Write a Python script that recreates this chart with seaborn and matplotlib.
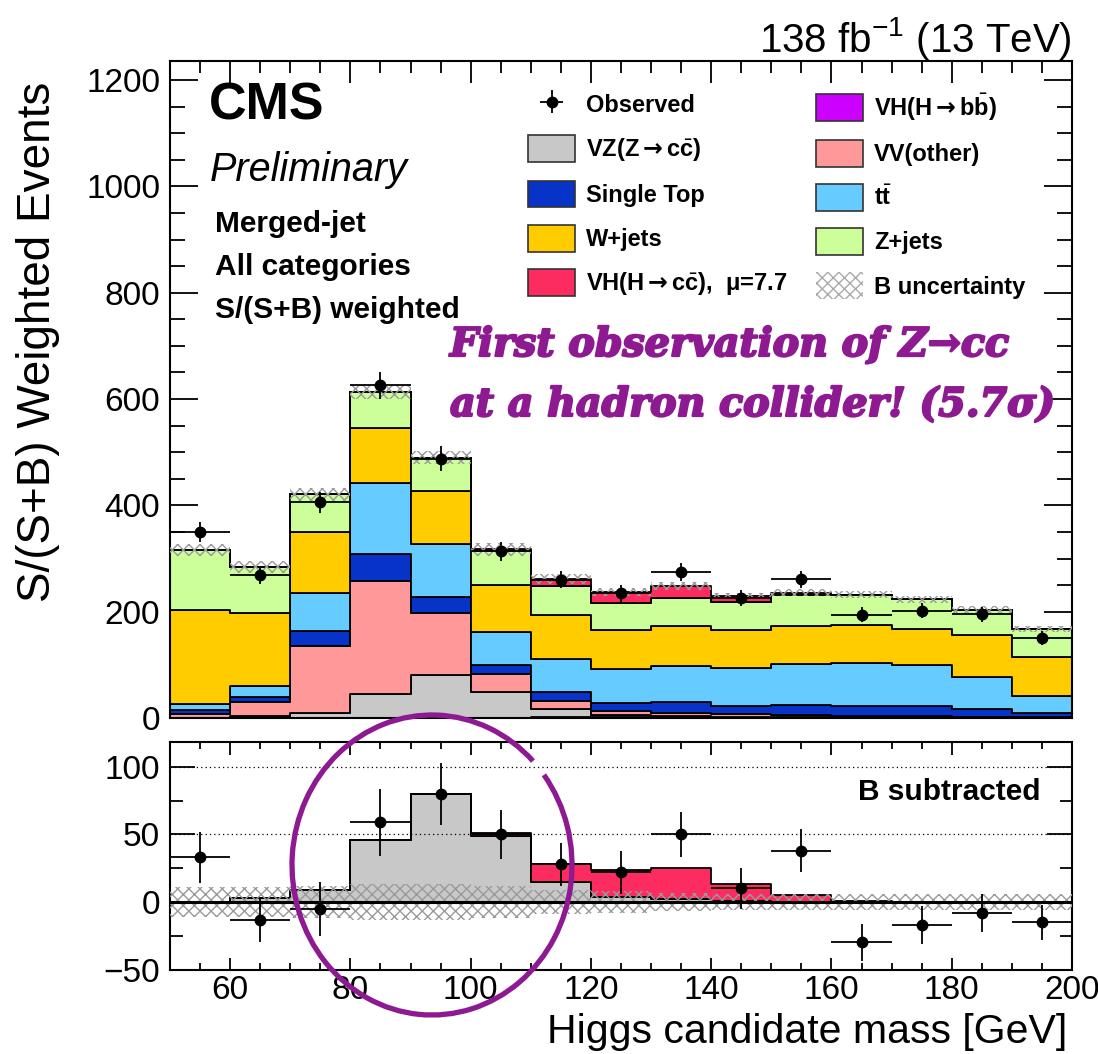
import numpy as np
import pandas as pd
import matplotlib
matplotlib.use("Agg")
import matplotlib.pyplot as plt
import matplotlib.patheffects as pe
from matplotlib.patches import Patch, Arc
from matplotlib.ticker import MultipleLocator
import seaborn as sns

# ---------------------------------------------------------------- data
bin_edges = list(range(50, 201, 10))
bin_centers = [e + 5 for e in bin_edges[:-1]]

# expected S/(S+B)-weighted yields per 10 GeV bin
vh_cc      = [0, 0, 0, 0, 0, 2, 13, 20, 23, 12, 5, 1, 0, 0, 0]
z_jets     = [113, 87, 72, 69, 63, 64, 55, 51, 51, 52, 57, 56, 55, 48, 53]
w_jets     = [177, 136, 114, 102, 100, 90, 82, 73, 76, 72, 73, 72, 69, 78, 73]
ttbar      = [11, 22, 71, 135, 99, 62, 62, 64, 67, 71, 77, 80, 77, 61, 32]
single_top = [8, 9, 28, 50, 30, 16, 17, 15, 22, 16, 19, 19, 18, 15, 7]
vv_other   = [7, 27, 127, 212, 118, 34, 16, 8, 5, 5, 4, 3, 3, 2, 2]
vz_cc      = [0, 3, 9, 46, 80, 49, 15, 4, 2, 1, 0, 0, 0, 0, 0]
vh_bb      = [0, 0, 0, 0, 0, 0, 1, 2, 2, 1, 1, 1, 1, 0, 0]
bkg_unc    = [11, 11, 12, 13, 13, 12, 9, 8, 7, 6, 6, 6, 6, 6, 6]

observed      = [350, 269, 406, 626, 488, 314, 260, 235, 274, 225, 261, 194, 202, 195, 151]
observed_err  = [19, 17, 20, 25, 23, 18, 16, 16, 17, 15, 16, 14, 14, 14, 13]
obs_minus_bkg = [33, -13, -5, 59, 80, 50, 28, 22, 50, 10, 38, -30, -17, -8, -15]

ARROW = r"$\mathsf{\rightarrow}$"
lbl_vhcc = "VH(H" + ARROW + r"c$\bar{\mathbf{c}}$),  μ=7.7"
lbl_vhbb = "VH(H" + ARROW + r"b$\bar{\mathbf{b}}$)"
lbl_vz = "VZ(Z" + ARROW + r"c$\bar{\mathbf{c}}$)"
lbl_vv = "VV(other)"
lbl_st = "Single Top"
lbl_tt = r"t$\bar{\mathbf{t}}$"
lbl_w = "W+jets"
lbl_z = "Z+jets"

components = {
    lbl_vhcc: vh_cc, lbl_z: z_jets, lbl_w: w_jets, lbl_tt: ttbar,
    lbl_st: single_top, lbl_vv: vv_other, lbl_vz: vz_cc, lbl_vhbb: vh_bb,
}
colors = {
    lbl_vhcc: "#fc2c60", lbl_z: "#ccff99", lbl_w: "#ffcc00", lbl_tt: "#66ccff",
    lbl_st: "#0733c8", lbl_vv: "#ff9999", lbl_vz: "#c8c8c8", lbl_vhbb: "#cc00ff",
}
# seaborn stacks the first hue level on top
stack_order = [lbl_vhcc, lbl_z, lbl_w, lbl_tt, lbl_st, lbl_vv, lbl_vz, lbl_vhbb]

df_stack = pd.concat(
    [pd.DataFrame({"mass": bin_centers, "events": vals, "process": name})
     for name, vals in components.items()],
    ignore_index=True,
)
signal_order = [lbl_vhcc, lbl_vz]
df_signal = df_stack[df_stack["process"].isin(signal_order)]

# ---------------------------------------------------------------- style
sns.set_theme(style="ticks")
plt.rcParams["font.family"] = ["Liberation Sans", "DejaVu Sans"]
plt.rcParams["mathtext.fontset"] = "custom"
plt.rcParams["mathtext.rm"] = "Liberation Sans"
plt.rcParams["mathtext.bf"] = "Liberation Sans:bold"
plt.rcParams["mathtext.it"] = "Liberation Sans:italic"
plt.rcParams["mathtext.sf"] = "DejaVu Sans:bold"
plt.rcParams["hatch.linewidth"] = 1.0
plt.rcParams["axes.linewidth"] = 1.5
for key in ("text.color", "axes.labelcolor", "axes.edgecolor",
            "xtick.color", "ytick.color"):
    plt.rcParams[key] = "black"

W, H = 1098, 1054
fig = plt.figure(figsize=(W / 100, H / 100), dpi=100)
fig.patch.set_facecolor("white")


def fx(px):
    return px / W


def fy(py):
    return 1 - py / H


ax1 = fig.add_axes([fx(170), fy(718), fx(1072) - fx(170), fy(61) - fy(718)])
ax2 = fig.add_axes([fx(170), fy(969.5), fx(1072) - fx(170), fy(742) - fy(969.5)])

# ---------------------------------------------------------------- top panel
sns.histplot(data=df_stack, x="mass", weights="events", hue="process",
             hue_order=stack_order, multiple="stack", bins=bin_edges,
             element="step", fill=True, alpha=1, palette=colors,
             edgecolor="black", linewidth=1.3, legend=False, ax=ax1)

total = np.sum([np.array(v) for v in components.values()], axis=0)
unc = np.array(bkg_unc)
band_x = np.array(bin_edges)
ax1.fill_between(band_x, np.append(total - unc, total[-1] - unc[-1]),
                 np.append(total + unc, total[-1] + unc[-1]), step="post",
                 facecolor="none", edgecolor="#9a9a9a", hatch="xxx",
                 linewidth=0, zorder=4)

obs = ax1.errorbar(bin_centers, observed, xerr=5, yerr=observed_err, fmt="o",
                   color="black", ms=7.5, elinewidth=1.3, capsize=0, zorder=6)

ax1.set_xlim(50, 200)
ax1.set_ylim(0, 1236)
ax1.set_xlabel("")
ax1.set_ylabel("")
ax1.xaxis.set_major_locator(MultipleLocator(20))
ax1.xaxis.set_minor_locator(MultipleLocator(5))
ax1.yaxis.set_major_locator(MultipleLocator(200))
ax1.yaxis.set_minor_locator(MultipleLocator(50))
ax1.tick_params(axis="both", which="both", direction="in", top=True, right=True,
                labelsize=24, width=1.3, color="black", labelcolor="black")
ax1.tick_params(axis="y", which="major", length=20, pad=7)
ax1.tick_params(axis="y", which="minor", length=11)
ax1.tick_params(axis="x", which="major", length=16)
ax1.tick_params(axis="x", which="minor", length=8.5)
ax1.tick_params(axis="x", labelbottom=False)

# legend, two columns
leg_kw = dict(prop=dict(family="Liberation Sans", weight="bold", size=17),
              frameon=False, handlelength=2.0, handleheight=1.36,
              handletextpad=0.47, labelspacing=0.74, borderpad=0,
              borderaxespad=0, loc="upper left", bbox_transform=fig.transFigure)


def box(name):
    return Patch(facecolor=colors[name], edgecolor="#333333", linewidth=1.2)


col1 = [obs, box(lbl_vz), box(lbl_st), box(lbl_w), box(lbl_vhcc)]
col1_lbl = ["Observed", lbl_vz, lbl_st, lbl_w, lbl_vhcc]
unc_handle = Patch(facecolor="none", edgecolor="#aaaaaa", hatch="xxx", linewidth=0)
col2 = [box(lbl_vhbb), box(lbl_vv), box(lbl_tt), box(lbl_z), unc_handle]
col2_lbl = [lbl_vhbb, lbl_vv, lbl_tt, lbl_z, "B uncertainty"]

leg1 = ax1.legend(col1, col1_lbl, bbox_to_anchor=(fx(528), fy(91)), **leg_kw)
ax1.add_artist(leg1)
ax1.legend(col2, col2_lbl, bbox_to_anchor=(fx(816), fy(91)), **leg_kw)

# ---------------------------------------------------------------- bottom panel
sns.histplot(data=df_signal, x="mass", weights="events", hue="process",
             hue_order=signal_order, multiple="stack", bins=bin_edges,
             element="step", fill=True, alpha=1, palette=colors,
             edgecolor="black", linewidth=1.3, legend=False, ax=ax2)
ax2.fill_between(band_x, np.append(-unc, -unc[-1]), np.append(unc, unc[-1]),
                 step="post", facecolor="none", edgecolor="#9a9a9a",
                 hatch="xxx", linewidth=0, zorder=4)
ax2.axhline(0, color="black", lw=2.2, zorder=5)
for yv in (50, 100):
    ax2.axhline(yv, color="black", lw=0.9, ls=(0, (1, 2.5)), zorder=1)
ax2.errorbar(bin_centers, obs_minus_bkg, xerr=5, yerr=observed_err, fmt="o",
             color="black", ms=7.5, elinewidth=1.3, capsize=0, zorder=6)

ax2.set_xlim(50, 200)
ax2.set_ylim(-50, 118.5)
ax2.set_ylabel("")
ax2.xaxis.set_major_locator(MultipleLocator(20))
ax2.xaxis.set_minor_locator(MultipleLocator(5))
ax2.yaxis.set_major_locator(MultipleLocator(50))
ax2.yaxis.set_minor_locator(MultipleLocator(25))
ax2.tick_params(axis="both", which="both", direction="in", top=True, right=True,
                labelsize=24, width=1.3, color="black", labelcolor="black")
ax2.tick_params(axis="y", which="major", length=18, pad=7)
ax2.tick_params(axis="y", which="minor", length=9)
ax2.tick_params(axis="x", which="major", length=9, pad=4)
ax2.tick_params(axis="x", which="minor", length=5)

ax2.set_xlabel("Higgs candidate mass [GeV]", fontsize=29.5, loc="right")
ax2.xaxis.set_label_coords(0.995, -0.19)
ax2.text(fx(1040), fy(800), "B subtracted", transform=fig.transFigure,
         ha="right", va="baseline", fontsize=21.5, fontweight="bold")

ax1.set_ylabel("S/(S+B) Weighted Events", fontsize=33, loc="top")
ax1.yaxis.set_label_coords((60 - 170) / 902, 1 - (82 - 61) / 657)

# ---------------------------------------------------------------- labels
fig.text(fx(1072), fy(52), r"138 fb$^{-1}$ (13 TeV)", ha="right", va="baseline",
         fontsize=29)
fig.text(fx(209), fy(120), "CMS", ha="left", va="baseline", fontsize=37.5,
         fontweight="bold")
fig.text(fx(210), fy(181), "Preliminary", ha="left", va="baseline", fontsize=28.5,
         fontstyle="italic")
for txt, base in [("Merged-jet", 232), ("All categories", 275),
                  ("S/(S+B) weighted", 318)]:
    fig.text(fx(215), fy(base), txt, ha="left", va="baseline", fontsize=21.5,
             fontweight="bold")

purple = "#8e1a91"
heavy = [pe.withStroke(linewidth=1.6, foreground=purple)]
fig.text(fx(450), fy(345), "First observation of Z→cc", ha="left", va="center",
         fontsize=28.5, color=purple, family="DejaVu Serif", fontweight="bold",
         fontstyle="italic", path_effects=heavy)
fig.text(fx(450), fy(405), "at a hadron collider! (5.7σ)", ha="left",
         va="center", fontsize=28.5, color=purple, family="DejaVu Serif",
         fontweight="bold", fontstyle="italic", path_effects=heavy)

ring = Arc((fx(432), fy(865)), fx(280), 300 / H, theta1=47, theta2=400,
           transform=fig.transFigure, color=purple, lw=3.8, clip_on=False,
           zorder=10)
fig.add_artist(ring)

fig.savefig("out.png", dpi=100)
